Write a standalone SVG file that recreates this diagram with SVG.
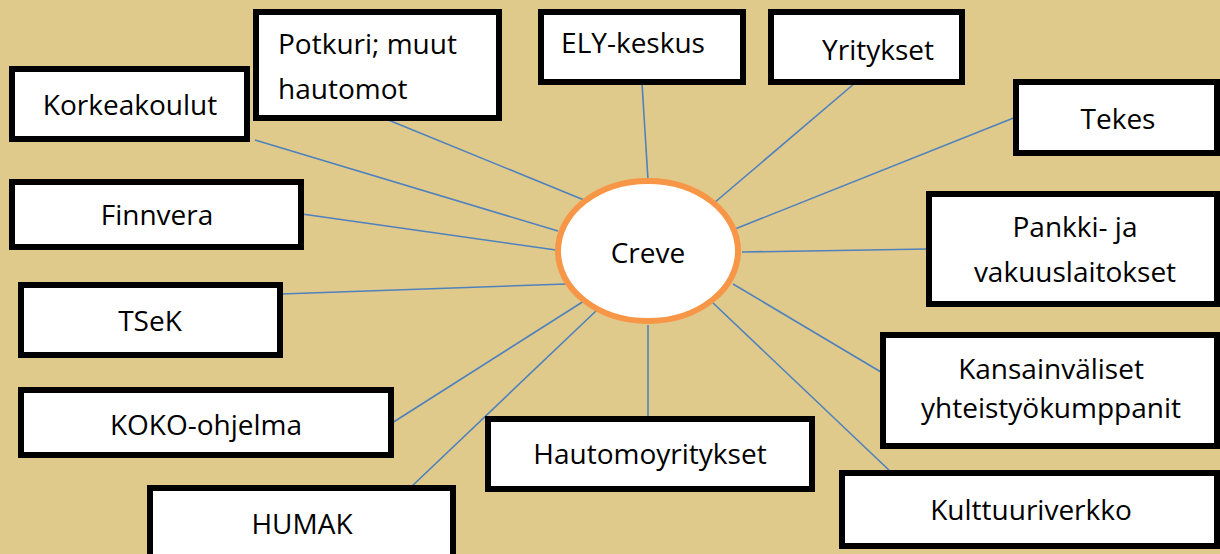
<svg xmlns="http://www.w3.org/2000/svg" width="1220" height="554" viewBox="0 0 1220 554">
<style>
.box{fill:#fff;stroke:#000;stroke-width:6}
.t{font-family:"Open Sans","Liberation Sans",sans-serif;font-size:28px;fill:#000;text-anchor:middle}
.tl{font-family:"Open Sans","Liberation Sans",sans-serif;font-size:28px;fill:#000}
.c line{stroke:#4f81bd;stroke-width:1.6}
</style>
<rect width="1220" height="554" fill="#dfca8b"/>
<g class="c" id="connectors">
<line x1="255" y1="140" x2="558" y2="231"/>
<line x1="381" y1="117" x2="584" y2="200"/>
<line x1="642" y1="83" x2="648" y2="180"/>
<line x1="855" y1="83" x2="714" y2="203"/>
<line x1="1016" y1="117" x2="735" y2="229"/>
<line x1="302" y1="214" x2="556" y2="250"/>
<line x1="928" y1="249" x2="742" y2="252"/>
<line x1="281" y1="294" x2="566" y2="284"/>
<line x1="891" y1="378" x2="733" y2="284"/>
<line x1="392" y1="423" x2="584" y2="301"/>
<line x1="410" y1="488" x2="597" y2="310"/>
<line x1="648" y1="418" x2="648" y2="325"/>
<line x1="891" y1="472" x2="712" y2="302"/>
</g>
<g id="creve"><ellipse cx="648" cy="251" rx="90" ry="70" fill="#fff" stroke="#f79646" stroke-width="6"/><text class="t" x="648" y="263">Creve</text></g>
<g id="korkeakoulut"><rect class="box" x="12" y="69" width="235" height="70"/><text class="t" x="130" y="115">Korkeakoulut</text></g>
<g id="potkuri"><rect class="box" x="256" y="12" width="243" height="106"/><text class="tl" x="278" y="54">Potkuri; muut</text><text class="tl" x="278" y="99">hautomot</text></g>
<g id="ely"><rect class="box" x="541" y="12" width="202" height="70"/><text class="t" x="633" y="53">ELY-keskus</text></g>
<g id="yritykset"><rect class="box" x="771" y="12" width="191" height="70"/><text class="t" x="878" y="60">Yritykset</text></g>
<g id="tekes"><rect class="box" x="1016" y="82" width="201" height="71"/><text class="t" x="1118" y="129">Tekes</text></g>
<g id="pankki"><rect class="box" x="929" y="194" width="288" height="110"/><text class="t" x="1075" y="237">Pankki- ja</text><text class="t" x="1075" y="282">vakuuslaitokset</text></g>
<g id="finnvera"><rect class="box" x="12" y="182" width="289" height="65"/><text class="t" x="157" y="225">Finnvera</text></g>
<g id="tsek"><rect class="box" x="21" y="285" width="259" height="70"/><text class="t" x="150" y="331">TSeK</text></g>
<g id="koko"><rect class="box" x="21" y="390" width="370" height="65"/><text class="t" x="206" y="435">KOKO-ohjelma</text></g>
<g id="hautomoyritykset"><rect class="box" x="488" y="419" width="324" height="70"/><text class="t" x="650" y="464">Hautomoyritykset</text></g>
<g id="humak"><rect class="box" x="150" y="488" width="303" height="75"/><text class="t" x="302" y="534">HUMAK</text></g>
<g id="kansainvaliset"><rect class="box" x="883" y="335" width="334" height="111"/><text class="t" x="1051" y="379">Kansainväliset</text><text class="t" x="1051" y="418">yhteistyökumppanit</text></g>
<g id="kulttuuriverkko"><rect class="box" x="842" y="473" width="375" height="73"/><text class="t" x="1031" y="520">Kulttuuriverkko</text></g>
</svg>
